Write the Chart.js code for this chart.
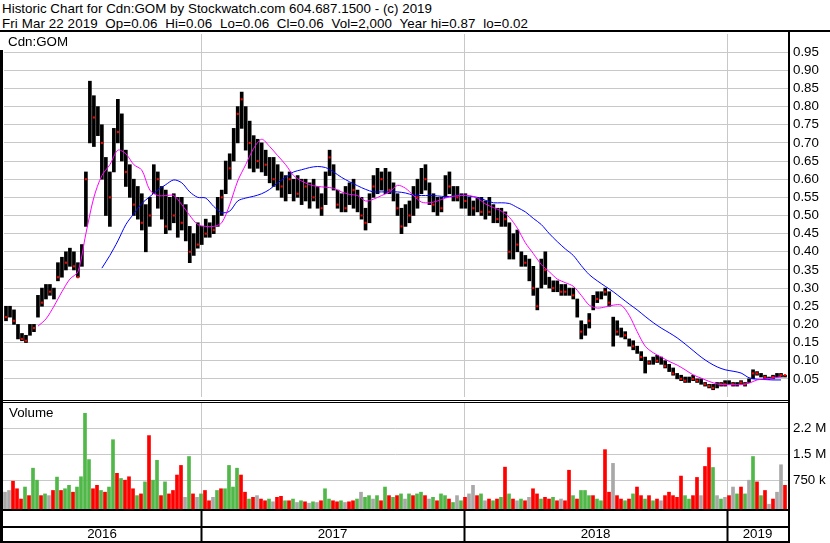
<!DOCTYPE html>
<html>
<head>
<meta charset="utf-8">
<script src="https://cdn.jsdelivr.net/npm/chart.js@4/dist/chart.umd.min.js"></script>
<style>
  body { margin: 0; background: #fff; }
  #wrap { position: relative; width: 830px; height: 543px; overflow: hidden;
          font-family: "Liberation Sans", Arial, sans-serif; font-size: 13.33px; color: #000; }
  .t { position: absolute; white-space: pre; line-height: 15px; }
  .k { position: absolute; background: #000; }
  canvas { position: absolute; left: 0; }
</style>
</head>
<body>
<div id="wrap">
  <div class="t" id="title1" style="left:2px;top:1px">Historic Chart for Cdn:GOM by Stockwatch.com 604.687.1500 - (c) 2019</div>
  <div class="t" id="title2" style="left:2px;top:16px">Fri Mar 22 2019  Op=0.06  Hi=0.06  Lo=0.06  Cl=0.06  Vol=2,000  Year hi=0.87  lo=0.02</div>
  <canvas id="price" width="830" height="371" style="top:30px"></canvas>
  <canvas id="vol" width="830" height="142" style="top:401px"></canvas>
  <div class="t" style="left:8px;top:34px">Cdn:GOM</div>
  <div class="t" style="left:9px;top:405px">Volume</div>
  <!-- frame -->
  <div class="k" style="left:0;top:30px;width:830px;height:2px"></div>
  <div class="k" style="left:0;top:50px;width:3px;height:493px"></div>
  <div class="k" style="left:788px;top:31px;width:2px;height:512px"></div>
  <div class="k" style="left:0;top:400px;width:789px;height:1px"></div>
  <div class="k" style="left:0;top:402px;width:789px;height:1px"></div>
  <div class="k" style="left:0;top:509px;width:789px;height:2px"></div>
  <div class="k" style="left:0;top:526px;width:789px;height:2px"></div>
  <div class="k" style="left:0;top:541px;width:790px;height:2px"></div>
</div>
<script>
// one slot = roughly one trading week
const lo = [
  0.21,0.22,0.20,0.16,0.155,0.15,0.17,0.18,0.22,0.25,
  0.27,0.28,0.27,0.32,0.33,0.35,0.36,0.35,0.33,0.36,
  0.47,0.70,0.69,0.72,0.60,0.50,0.47,0.62,0.70,0.65,
  0.58,0.55,0.50,0.49,0.46,0.40,0.47,0.56,0.52,0.49,
  0.45,0.46,0.48,0.44,0.46,0.43,0.37,0.39,0.41,0.42,
  0.44,0.44,0.45,0.47,0.50,0.56,0.60,0.65,0.70,0.74,
  0.68,0.63,0.62,0.63,0.62,0.61,0.59,0.58,0.57,0.55,
  0.54,0.56,0.54,0.55,0.53,0.54,0.52,0.54,0.52,0.50,
  0.53,0.61,0.57,0.52,0.51,0.51,0.53,0.52,0.51,0.49,
  0.46,0.48,0.55,0.56,0.57,0.56,0.56,0.54,0.50,0.45,
  0.47,0.48,0.50,0.52,0.56,0.57,0.53,0.51,0.50,0.51,
  0.55,0.56,0.54,0.54,0.52,0.52,0.50,0.50,0.51,0.50,
  0.49,0.50,0.48,0.48,0.47,0.47,0.38,0.38,0.40,0.36,
  0.36,0.32,0.28,0.24,0.30,0.31,0.30,0.29,0.29,0.28,
  0.28,0.28,0.27,0.22,0.16,0.17,0.19,0.24,0.26,0.27,
  0.28,0.25,0.14,0.17,0.165,0.16,0.14,0.13,0.12,0.10,
  0.066,0.09,0.09,0.095,0.09,0.08,0.07,0.06,0.05,0.045,
  0.04,0.04,0.045,0.04,0.035,0.03,0.025,0.02,0.025,0.03,
  0.03,0.035,0.03,0.03,0.035,0.03,0.04,0.05,0.06,0.055,
  0.05,0.05,0.05,0.055,0.055,0.055
];
const hi = [
  0.25,0.25,0.24,0.20,0.175,0.17,0.20,0.20,0.28,0.30,
  0.31,0.31,0.30,0.37,0.385,0.40,0.41,0.40,0.37,0.42,
  0.62,0.87,0.83,0.80,0.75,0.66,0.62,0.74,0.82,0.78,
  0.68,0.64,0.60,0.58,0.56,0.53,0.55,0.64,0.62,0.58,
  0.57,0.55,0.56,0.55,0.55,0.53,0.47,0.45,0.48,0.47,
  0.49,0.48,0.50,0.55,0.57,0.65,0.67,0.74,0.80,0.84,
  0.80,0.76,0.72,0.71,0.70,0.68,0.66,0.66,0.64,0.62,
  0.61,0.62,0.60,0.61,0.60,0.60,0.59,0.60,0.58,0.56,
  0.62,0.68,0.64,0.57,0.56,0.58,0.59,0.60,0.57,0.55,
  0.52,0.56,0.61,0.63,0.62,0.63,0.62,0.59,0.56,0.52,
  0.53,0.54,0.58,0.60,0.63,0.64,0.59,0.56,0.55,0.55,
  0.61,0.62,0.58,0.58,0.56,0.56,0.55,0.54,0.55,0.55,
  0.54,0.55,0.53,0.52,0.52,0.51,0.48,0.45,0.46,0.40,
  0.39,0.38,0.36,0.30,0.38,0.40,0.33,0.32,0.32,0.31,
  0.31,0.30,0.30,0.27,0.21,0.20,0.23,0.28,0.29,0.29,
  0.30,0.29,0.22,0.21,0.19,0.18,0.16,0.155,0.14,0.125,
  0.11,0.10,0.11,0.115,0.11,0.10,0.09,0.08,0.065,0.06,
  0.055,0.055,0.06,0.05,0.05,0.04,0.035,0.035,0.04,0.04,
  0.045,0.045,0.04,0.04,0.045,0.04,0.05,0.075,0.07,0.065,
  0.06,0.055,0.06,0.065,0.065,0.06
];
const close = [
  0.22,null,0.21,null,0.16,0.155,null,0.19,null,0.26,
  null,0.29,null,0.33,null,0.37,null,0.36,0.33,null,
  0.60,null,0.77,null,0.70,null,0.55,null,0.73,null,
  0.62,null,0.53,null,0.48,null,0.50,null,0.60,null,
  0.47,null,0.50,null,0.48,null,0.40,null,0.42,null,
  0.45,null,0.46,null,0.55,null,0.63,null,0.78,0.82,
  null,0.70,null,0.65,null,0.64,null,0.60,null,0.58,
  null,0.60,null,0.56,null,0.58,null,0.55,null,0.52,
  null,0.66,null,0.53,null,0.52,null,0.57,null,0.50,
  0.48,null,0.58,null,0.60,null,0.57,null,0.52,0.47,
  null,0.50,null,0.55,null,0.60,null,0.53,null,0.52,
  null,0.58,null,0.55,null,0.54,null,0.52,null,0.51,
  null,0.51,null,0.49,null,0.49,0.40,null,0.42,null,
  0.37,null,0.30,0.25,null,0.35,null,0.30,null,0.29,
  0.29,null,0.28,null,0.18,null,0.21,null,0.27,null,
  0.29,0.26,null,0.18,null,0.17,null,0.14,null,0.11,
  null,0.095,null,0.10,null,0.085,null,0.065,null,0.05,
  0.045,null,0.05,0.045,null,0.035,0.03,0.025,null,0.035,
  0.035,null,0.035,null,0.04,0.035,null,0.065,0.065,null,
  0.055,0.05,0.055,null,0.06,0.06
];
// moving averages, one value every second slot
const maFast = [
  null,null,null,null,0.195,0.215,0.25,0.29,0.325,0.345,
  0.45,0.55,0.61,0.64,0.68,0.67,0.64,0.625,0.57,0.555,
  0.555,0.555,0.53,0.50,0.475,0.47,0.47,0.48,0.53,0.595,
  0.64,0.685,0.71,0.69,0.665,0.64,0.61,0.595,0.585,0.58,
  0.578,0.575,0.565,0.558,0.555,0.54,0.545,0.555,0.565,0.583,
  0.575,0.555,0.537,0.535,0.54,0.548,0.553,0.555,0.555,0.548,
  0.532,0.522,0.512,0.495,0.465,0.425,0.395,0.365,0.345,0.325,
  0.315,0.305,0.28,0.253,0.245,0.248,0.253,0.253,0.225,0.18,
  0.14,0.122,0.11,0.098,0.088,0.075,0.061,0.052,0.043,0.036,
  0.034,0.034,0.034,0.038,0.047,0.05,0.052,0.056
];
const maSlow = [
  null,null,null,null,null,null,null,null,null,null,
  null,null,0.355,0.39,0.43,0.475,0.505,0.533,0.552,0.57,
  0.585,0.598,0.59,0.565,0.55,0.548,0.525,0.508,0.512,0.54,
  0.548,0.553,0.56,0.572,0.59,0.605,0.62,0.626,0.632,0.635,
  0.632,0.62,0.605,0.593,0.582,0.572,0.565,0.565,0.565,0.565,
  0.562,0.556,0.555,0.555,0.554,0.552,0.553,0.556,0.553,0.55,
  0.542,0.535,0.535,0.533,0.522,0.51,0.492,0.475,0.45,0.428,
  0.408,0.39,0.362,0.337,0.32,0.305,0.29,0.273,0.256,0.24,
  0.222,0.205,0.19,0.177,0.163,0.146,0.128,0.11,0.095,0.083,
  0.075,0.071,0.066,0.053,0.049,0.048,0.047,0.047
];
// volume in millions, u = up day, d = down day, n = unchanged
const vol = [
  0.4,0.45,0.72,0.5,0.2,0.55,0.3,1.1,0.75,0.3,
  0.35,0.3,0.45,0.84,0.45,0.5,0.6,0.4,0.55,0.85,
  2.7,1.35,0.5,0.6,0.45,0.4,0.55,1.93,0.95,0.8,
  0.75,0.85,0.5,0.3,0.35,0.7,2.05,0.75,1.33,0.3,
  0.7,0.35,0.45,0.9,1.18,0.25,1.44,0.35,0.25,0.35,
  0.45,0.15,0.25,0.45,0.5,0.5,1.18,0.55,1.1,0.9,
  0.4,0.2,0.25,0.3,0.2,0.15,0.2,0.12,0.25,0.28,
  0.15,0.15,0.2,0.1,0.15,0.12,0.08,0.12,0.1,0.15,
  0.5,0.2,0.15,0.12,0.15,0.1,0.12,0.15,0.2,0.4,
  0.25,0.3,0.2,0.3,0.15,0.55,0.3,0.25,0.3,0.35,
  0.2,0.35,0.3,0.35,0.4,0.3,0.2,0.25,0.15,0.35,
  0.3,0.2,0.1,0.3,0.15,0.25,0.35,0.6,0.3,0.35,
  0.15,0.2,0.15,0.2,0.25,1.13,0.35,0.2,0.15,0.2,
  0.15,0.25,0.5,0.35,0.2,0.25,0.2,0.25,0.15,0.2,
  0.15,1.04,0.3,0.2,0.45,0.45,0.3,0.3,0.2,0.15,
  1.64,0.4,1.24,0.3,0.2,0.15,0.2,0.35,0.55,0.3,
  0.2,0.3,0.15,0.2,0.15,0.3,0.4,0.3,0.25,0.87,
  0.3,0.2,0.3,0.83,0.3,1.15,1.7,1.12,0.3,0.2,
  0.25,0.3,0.55,0.35,0.55,0.35,0.75,1.44,0.7,0.3,
  0.45,0.05,0.2,0.4,1.2,0.6
];
const dir = [
  'n','n','d','d','d','u','d','u','u','d',
  'u','n','d','u','d','u','u','d','u','u',
  'u','u','d','d','u','d','u','u','d','u',
  'd','d','d','u','d','u','d','u','u','d',
  'u','d','d','d','d','n','u','d','n','u',
  'd','d','n','u','d','u','u','u','u','d',
  'd','u','d','n','d','d','u','n','d','d',
  'u','d','u','n','u','d','n','u','n','d',
  'u','u','d','d','u','n','d','d','u','n',
  'u','u','n','u','d','u','d','u','d','u',
  'n','u','d','u','u','d','n','u','d','u',
  'u','d','u','n','u','d','n','n','d','u',
  'n','d','u','d','u','d','u','d','n','u',
  'd','n','d','d','u','d','d','u','d','n',
  'd','d','u','d','u','u','u','d','u','u',
  'd','d','n','d','d','u','d','u','d','d',
  'u','d','u','d','n','d','d','d','d','d',
  'u','u','d','d','n','d','d','u','n','u',
  'n','d','n','u','d','u','n','u','d','u',
  'd','n','d','n','n','d'
];
const priceTicks = [0.05,0.10,0.15,0.20,0.25,0.30,0.35,0.40,0.45,0.50,0.55,0.60,0.65,0.70,0.75,0.80,0.85,0.90,0.95];
const volTicks = [0.75, 1.5, 2.25];
const volTickLabels = ['750 k', '1.5 M', '2.2 M'];
const years = ['2016', '2017', '2018', '2019'];
const yearStarts = [49, 114.75, 180.5];   // slot position of Jan 1

const X_MIN = -0.5, X_MAX = 195.75;
const VOL_MIN = -0.09, VOL_MAX = 3.0;
const GRID = '#c8c8c8';
const VOL_COL = { u: '#50b848', d: '#ff0000', n: '#a8a8a8' };

// the header lines run to fixed widths in the original
function fitText(id, width) {
  const el = document.getElementById(id);
  const w = el.getBoundingClientRect().width;
  el.style.letterSpacing = ((width - w) / el.textContent.length) + 'px';
}
fitText('title1', 430);
fitText('title2', 526);

Chart.defaults.font.family = '"Liberation Sans", Arial, sans-serif';
Chart.defaults.font.size = 13.33;
Chart.defaults.color = '#000';

const noPad = s => { s.paddingTop = 0; s.paddingBottom = 0; s.paddingLeft = 0; s.paddingRight = 0; };
const points = (arr, step) => arr.map((v, i) => v == null ? null : { x: i * step, y: v }).filter(p => p);

// tick list for the year band: boundaries get lines, centres get the labels
const edges = [X_MIN, ...yearStarts, X_MAX];
const bandTicks = [];
years.forEach((y, i) => {
  if (i > 0) bandTicks.push({ value: edges[i], label: '', bound: true });
  bandTicks.push({ value: (edges[i] + edges[i + 1]) / 2, label: y, bound: false });
});
const isBound = c => c.tick && bandTicks.some(t => t.bound && t.value === c.tick.value);

const common = {
  responsive: false,
  animation: false,
  events: [],
  plugins: { legend: { display: false }, tooltip: { enabled: false } }
};

new Chart(document.getElementById('price'), {
  type: 'bar',
  data: {
    datasets: [
      { type: 'line', data: points(maFast, 2), borderColor: '#ff00ff', borderWidth: 1,
        pointRadius: 0, tension: 0.3, order: 0 },
      { type: 'line', data: points(maSlow, 2), borderColor: '#0000ff', borderWidth: 1,
        pointRadius: 0, tension: 0.3, order: 0 },
      { type: 'scatter', data: points(close, 1), pointStyle: 'rect', pointRadius: 1.5,
        backgroundColor: '#ff0000', borderWidth: 0, order: 1 },
      { type: 'bar', data: lo.map((l, i) => ({ x: i, y: [l, hi[i]] })), backgroundColor: '#000',
        barThickness: 3, borderWidth: 0, grouped: false, order: 2 }
    ]
  },
  options: {
    ...common,
    layout: { padding: { left: 3, top: 0, right: 0, bottom: 1 } },
    scales: {
      x: {
        type: 'linear', min: X_MIN, max: X_MAX, offset: false,
        afterBuildTicks: s => { s.ticks = yearStarts.map(v => ({ value: v })); },
        ticks: { display: false },
        grid: { color: GRID, drawTicks: false, offset: false },
        border: { display: false },
        afterFit: s => { s.height = 0; noPad(s); }
      },
      y: {
        type: 'linear', position: 'right', min: 0, max: 1,
        afterBuildTicks: s => { s.ticks = priceTicks.map(v => ({ value: v })); },
        ticks: { padding: 5, callback: v => v.toFixed(2) },
        grid: { color: GRID, drawTicks: false },
        border: { display: false },
        afterFit: s => { s.width = 42; noPad(s); }
      }
    }
  }
});

new Chart(document.getElementById('vol'), {
  type: 'bar',
  data: {
    datasets: [{
      data: vol.map((v, i) => ({ x: i, y: v })),
      backgroundColor: dir.map(d => VOL_COL[d]),
      barThickness: 3, borderWidth: 0, base: VOL_MIN
    }]
  },
  options: {
    ...common,
    layout: { padding: { left: 3, top: 2, right: 0, bottom: 2 } },
    scales: {
      x: {
        type: 'linear', min: X_MIN, max: X_MAX, offset: false,
        afterBuildTicks: s => { s.ticks = bandTicks.map(t => ({ value: t.value })); },
        ticks: { autoSkip: false, maxRotation: 0, padding: -15,
                 callback: (v, i) => bandTicks[i].label },
        grid: {
          offset: false, tickLength: 32, tickWidth: 2,
          color: c => isBound(c) ? GRID : 'rgba(0,0,0,0)',
          tickColor: c => isBound(c) ? '#000' : 'rgba(0,0,0,0)'
        },
        border: { display: false },
        afterFit: s => { s.height = 32; noPad(s); }
      },
      y: {
        type: 'linear', position: 'right', min: VOL_MIN, max: VOL_MAX,
        afterBuildTicks: s => { s.ticks = volTicks.map(v => ({ value: v })); },
        ticks: { padding: 5, callback: (v, i) => volTickLabels[i] },
        grid: { color: GRID, drawTicks: false },
        border: { display: false },
        afterFit: s => { s.width = 42; noPad(s); }
      }
    }
  }
});
</script>
</body>
</html>
